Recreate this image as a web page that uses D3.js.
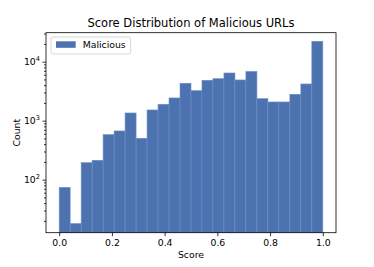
<!DOCTYPE html>
<html><head><meta charset="utf-8">
<script src="https://cdn.jsdelivr.net/npm/d3@7/dist/d3.min.js"></script>
<style>body{margin:0;background:#fff}svg{display:block}text{font-family:"DejaVu Sans",sans-serif;fill:#000}</style>
</head><body><svg id="c" width="374" height="267"></svg>
<script>
const binStart = 0, binEnd = 1, binCount = 24;
const counts = [74, 18, 194, 213, 579, 669, 1350, 503, 1518, 1897, 2427, 4307, 3224, 4839, 5151, 6431, 4898, 6823, 2360, 2074, 2074, 2801, 4190, 22180];
const xTicks = [0.0, 0.2, 0.4, 0.6, 0.8, 1.0];
const yTicks = [100, 1000, 10000];
const seriesName = "Malicious";
const title = "Score Distribution of Malicious URLs";

const svg = d3.select("#c");
const L = 46, R = 336, T = 32.7, B = 232.7;
const x = d3.scaleLinear().domain([-0.05, 1.05]).range([L, R]);
const y = d3.scaleLog().domain([12.6, 31000]).range([B, T]);
const w = (binEnd - binStart) / binCount;
const bins = counts.map((c, i) => ({x0: binStart + i * w, x1: binStart + (i + 1) * w, c}));

svg.append("g").selectAll("rect").data(bins).join("rect")
  .attr("x", d => x(d.x0)).attr("width", d => x(d.x1) - x(d.x0))
  .attr("y", d => y(d.c)).attr("height", d => B - y(d.c))
  .attr("fill", "#4c72b0").attr("stroke", "#6f8fc4").attr("stroke-width", 0.6);

// axes
const xa = svg.append("g").attr("transform", `translate(0,${B})`)
  .call(d3.axisBottom(x).tickValues(xTicks).tickFormat(d3.format(".1f")).tickSize(3.5).tickPadding(3));
xa.select(".domain").remove();
xa.selectAll("text").attr("font-size", 9.3).style("font-family", "DejaVu Sans");

const minor = [];
for (let e = 1; e <= 4; e++) for (let k = 2; k <= 9; k++) { const v = k * Math.pow(10, e); if (v > 12.6 && v < 31000) minor.push(v); }
const yaMinor = svg.append("g").attr("transform", `translate(${L},0)`)
  .call(d3.axisLeft(y).tickValues(minor).tickFormat("").tickSize(2));
yaMinor.select(".domain").remove();
const ya = svg.append("g").attr("transform", `translate(${L},0)`)
  .call(d3.axisLeft(y).tickValues(yTicks).tickFormat("").tickSize(3.5));
ya.select(".domain").remove();
svg.selectAll(".tick line").attr("stroke", "#000").attr("stroke-width", 0.8);

yTicks.forEach(v => {
  const t = svg.append("text").attr("x", L - 6).attr("y", y(v) + 3.4).attr("text-anchor", "end").attr("font-size", 9.3);
  t.append("tspan").text("10");
  t.append("tspan").attr("dy", -4).attr("font-size", 6.6).text(Math.round(Math.log10(v)));
});

svg.append("rect").attr("x", L).attr("y", T).attr("width", R - L).attr("height", B - T)
  .attr("fill", "none").attr("stroke", "#000").attr("stroke-width", 0.8);

svg.append("text").attr("x", (L + R) / 2).attr("y", 27).attr("text-anchor", "middle").attr("font-size", 11.5).text(title);
svg.append("text").attr("x", (L + R) / 2).attr("y", 258).attr("text-anchor", "middle").attr("font-size", 9.3).text("Score");
svg.append("text").attr("transform", `translate(19.5,${(T + B) / 2}) rotate(-90)`).attr("text-anchor", "middle").attr("font-size", 9.3).text("Count");

// legend
const lg = svg.append("g");
lg.append("rect").attr("x", 51).attr("y", 37).attr("width", 79.7).attr("height", 17).attr("rx", 2)
  .attr("fill", "#fff").attr("fill-opacity", 0.8).attr("stroke", "#ccc").attr("stroke-width", 0.8);
lg.append("rect").attr("x", 56).attr("y", 41.3).attr("width", 19.7).attr("height", 6.5).attr("fill", "#4c72b0");
lg.append("text").attr("x", 82.7).attr("y", 48).attr("font-size", 9.3).text(seriesName);
</script></body></html>
